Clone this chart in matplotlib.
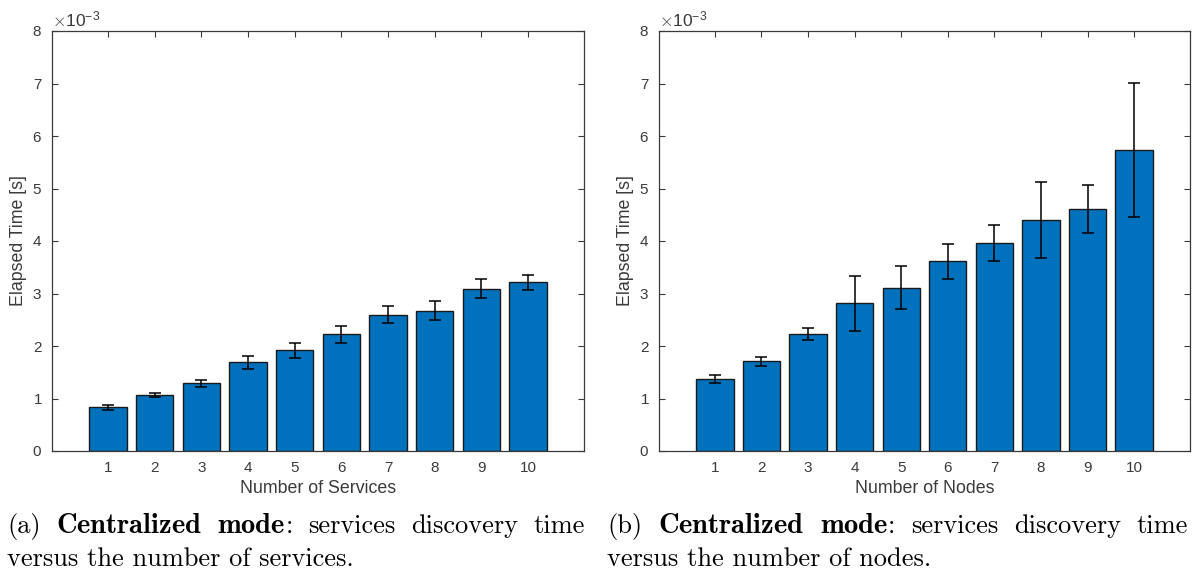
import numpy as np
import matplotlib.pyplot as plt
from matplotlib.ticker import ScalarFormatter

# values, in units of 1e-3 s
counts = np.arange(1, 11)
services_time = [0.83, 1.06, 1.29, 1.69, 1.92, 2.22, 2.60, 2.67, 3.09, 3.21]
services_err = [0.05, 0.04, 0.07, 0.12, 0.14, 0.16, 0.16, 0.18, 0.18, 0.15]
nodes_time = [1.37, 1.71, 2.23, 2.81, 3.11, 3.61, 3.96, 4.40, 4.61, 5.73]
nodes_err = [0.08, 0.09, 0.12, 0.53, 0.41, 0.34, 0.34, 0.73, 0.45, 1.28]

xlabels = ['Number of Services', 'Number of Nodes']
caption_words = [
    ['(a)', r'$\mathbf{Centralized}$', r'$\mathbf{mode}$', ':', 'services', 'discovery', 'time'],
    ['(b)', r'$\mathbf{Centralized}$', r'$\mathbf{mode}$', ':', 'services', 'discovery', 'time'],
]
captions2 = ['versus the number of services.', 'versus the number of nodes.']

plt.rcParams['font.family'] = ['Liberation Sans', 'DejaVu Sans']
plt.rcParams['mathtext.fontset'] = 'cm'

grey = '#3a3a3a'
bar_color = '#0072BD'

fig = plt.figure(figsize=(11.92, 5.75), dpi=100)
ax1 = fig.add_axes([52 / 1192, 1 - 451 / 575, (584 - 52) / 1192, 420 / 575])
ax2 = fig.add_axes([659 / 1192, 1 - 451 / 575, (1190 - 659) / 1192, 420 / 575])

data = [(services_time, services_err), (nodes_time, nodes_err)]
for ax, (vals, errs), xl in zip([ax1, ax2], data, xlabels):
    vals = np.array(vals) * 1e-3
    errs = np.array(errs) * 1e-3
    ax.bar(counts, vals, width=0.8, color=bar_color, edgecolor='#1a1a1a',
           linewidth=1.0, zorder=2)
    ax.errorbar(counts, vals, yerr=errs, fmt='none', ecolor='black',
                elinewidth=1.1, capsize=4.5, capthick=1.1, zorder=3)
    ax.set_xlim(-0.2, 11.2)
    ax.set_ylim(0, 8e-3)
    ax.set_xticks(counts)
    ax.set_yticks(np.arange(0, 9) * 1e-3)
    fmt = ScalarFormatter(useMathText=True)
    fmt.set_powerlimits((-3, -3))
    ax.yaxis.set_major_formatter(fmt)
    ax.yaxis.get_offset_text().set_fontsize(12.5)
    ax.yaxis.get_offset_text().set_color(grey)
    ax.tick_params(direction='in', length=4, width=0.8, colors=grey,
                   labelsize=11, top=True, right=True, pad=7)
    for s in ax.spines.values():
        s.set_color(grey)
        s.set_linewidth(0.9)
    ax.set_xlabel(xl, fontsize=12.8, color=grey, labelpad=4)
    ax.set_ylabel('Elapsed Time [s]', fontsize=12.8, color=grey, labelpad=4)

# captions: first line justified to full width, second line left aligned
renderer = fig.canvas.get_renderer()
cap_size = 19
for x0, x1, words, c2 in zip([7, 607], [585, 1188], caption_words, captions2):
    texts = []
    for w in words:
        size = 20.5 if 'mathbf' in w else cap_size
        texts.append(fig.text(0, 1 - 533 / 575, w, fontsize=size,
                              family='cmr10', va='baseline'))
    widths = [t.get_window_extent(renderer).width for t in texts]
    # the colon sticks to "mode", no gap before it
    n_gaps = len(words) - 2
    gap = (x1 - x0 - sum(widths)) / n_gaps
    x = x0
    for i, (t, w) in enumerate(zip(texts, widths)):
        t.set_x(x / 1192)
        x += w
        if i != 2:
            x += gap
    fig.text(x0 / 1192, 1 - 566 / 575, c2, fontsize=cap_size, family='cmr10',
             va='baseline')

fig.savefig('out.png', dpi=100)
